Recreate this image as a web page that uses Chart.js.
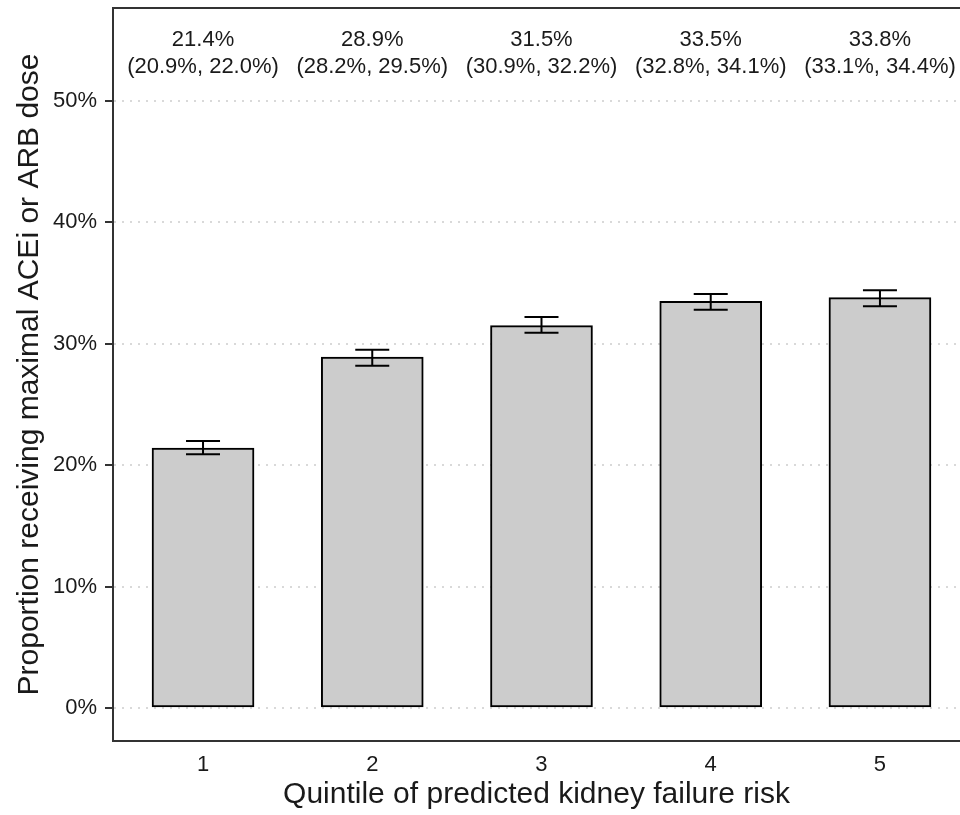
<!DOCTYPE html>
<html lang="en">
<head>
    <meta charset="UTF-8">
    <title>Maximal ACEi or ARB dose by quintile</title>
    <script src="https://cdn.jsdelivr.net/npm/chart.js"></script>
    <style>
        body {
            margin: 0;
            background: #ffffff;
            overflow: hidden;
        }
        canvas {
            display: block;
        }
    </style>
</head>
<body>

<canvas id="doseChart" width="960" height="815"></canvas>

<script>
    // quintiles of predicted kidney failure risk
    const quintiles = [1, 2, 3, 4, 5];
    // proportion (%) receiving maximal dose, with 95% CI
    const proportion = [21.4, 28.9, 31.5, 33.5, 33.8];
    const ciLow = [20.9, 28.2, 30.9, 32.8, 33.1];
    const ciHigh = [22.0, 29.5, 32.2, 34.1, 34.4];
    const yTicks = [0, 10, 20, 30, 40, 50];

    const fontFamily = '"Liberation Sans", Arial, Helvetica, sans-serif';
    const ink = '#1a1a1a';

    // error bars + labels on top of the panel
    const extras = {
        id: 'extras',
        afterDatasetsDraw(chart) {
            const {ctx, scales: {x, y}, chartArea} = chart;
            ctx.save();
            ctx.strokeStyle = '#000';
            ctx.lineWidth = 2;
            quintiles.forEach((q, i) => {
                const px = x.getPixelForValue(q);
                const lo = y.getPixelForValue(ciLow[i]);
                const hi = y.getPixelForValue(ciHigh[i]);
                ctx.beginPath();
                ctx.moveTo(px, lo);
                ctx.lineTo(px, hi);
                ctx.moveTo(px - 17, lo);
                ctx.lineTo(px + 17, lo);
                ctx.moveTo(px - 17, hi);
                ctx.lineTo(px + 17, hi);
                ctx.stroke();
            });

            ctx.fillStyle = ink;
            ctx.font = '22px ' + fontFamily;
            ctx.textAlign = 'center';
            ctx.textBaseline = 'middle';
            quintiles.forEach((q, i) => {
                const px = x.getPixelForValue(q);
                ctx.fillText(proportion[i].toFixed(1) + '%', px, chartArea.top + 32);
                ctx.fillText('(' + ciLow[i].toFixed(1) + '%, ' + ciHigh[i].toFixed(1) + '%)', px, chartArea.top + 59);
            });

            // top panel border
            ctx.strokeStyle = '#333';
            ctx.beginPath();
            ctx.moveTo(chartArea.left, chartArea.top);
            ctx.lineTo(chartArea.right, chartArea.top);
            ctx.stroke();
            ctx.restore();
        }
    };

    const ctx = document.getElementById('doseChart').getContext('2d');
    new Chart(ctx, {
        type: 'bar',
        data: {
            datasets: [{
                data: quintiles.map((q, i) => ({x: q, y: proportion[i]})),
                backgroundColor: '#cccccc',
                borderColor: '#000000',
                borderWidth: 2,
                borderSkipped: false,
                barThickness: 102
            }]
        },
        options: {
            responsive: false,
            animation: false,
            layout: {
                padding: {top: 8, right: 0, bottom: 0, left: 0}
            },
            scales: {
                x: {
                    type: 'linear',
                    offset: false,
                    min: 0.468,
                    max: 5.473,
                    afterBuildTicks: axis => { axis.ticks = quintiles.map(v => ({value: v})); },
                    afterFit: scale => {
                        scale.height = 74;
                        scale.paddingLeft = 0;
                        scale.paddingRight = 0;
                    },
                    grid: {display: false, drawTicks: false},
                    border: {display: true, color: '#333', width: 2},
                    ticks: {
                        padding: 11,
                        color: ink,
                        font: {family: fontFamily, size: 22}
                    },
                    title: {
                        display: true,
                        text: 'Quintile of predicted kidney failure risk',
                        color: ink,
                        font: {family: fontFamily, size: 30},
                        padding: {top: 0, bottom: 2}
                    }
                },
                y: {
                    min: -2.72,
                    max: 57.66,
                    afterBuildTicks: axis => { axis.ticks = yTicks.map(v => ({value: v})); },
                    afterFit: scale => {
                        scale.width = 113;
                        scale.paddingTop = 0;
                        scale.paddingBottom = 0;
                    },
                    grid: {
                        color: '#d9d9d9',
                        lineWidth: 2,
                        drawTicks: true,
                        tickLength: 8,
                        tickColor: '#333',
                        tickWidth: 2,
                        tickBorderDash: []
                    },
                    border: {display: true, color: '#333', width: 2, dash: [2, 6]},
                    ticks: {
                        padding: 8,
                        color: ink,
                        font: {family: fontFamily, size: 22},
                        callback: v => v + '%'
                    },
                    title: {
                        display: true,
                        text: 'Proportion receiving maximal ACEi or ARB dose',
                        color: ink,
                        font: {family: fontFamily, size: 30},
                        padding: {top: 12, bottom: 0}
                    }
                }
            },
            plugins: {
                legend: {display: false},
                tooltip: {enabled: false}
            }
        },
        plugins: [extras]
    });
</script>

</body>
</html>
